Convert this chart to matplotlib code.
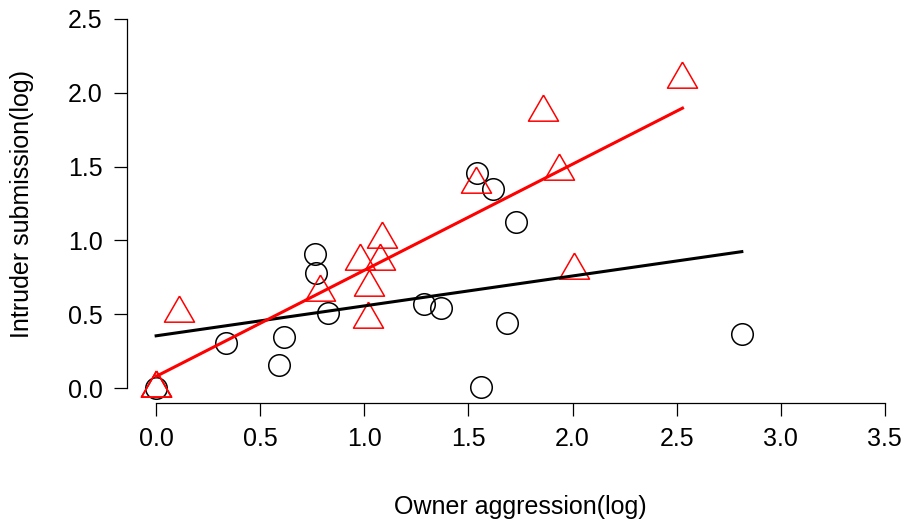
import numpy as np
import matplotlib.pyplot as plt

plt.rcParams['font.family'] = ['Liberation Sans', 'DejaVu Sans']

# owner aggression vs intruder submission (log), two groups
circ_x = [0.0, 0.336, 0.59, 0.615, 0.763, 0.768, 0.826, 1.287, 1.368,
          1.541, 1.618, 1.728, 1.685, 1.56, 2.813]
circ_y = [0.0, 0.305, 0.16, 0.345, 0.908, 0.78, 0.508, 0.569, 0.542,
          1.457, 1.348, 1.125, 0.44, 0.01, 0.366]

# three triangle observations sit on top of each other at (0, 0)
tri_x = [0.0, 0.0, 0.0, 0.11, 0.787, 0.979, 1.083, 1.075, 1.024, 1.019,
         1.536, 1.936, 2.007, 1.86, 2.528]
tri_y = [0.0, 0.0, 0.0, 0.508, 0.654, 0.858, 1.009, 0.858, 0.682, 0.471,
         1.385, 1.468, 0.797, 1.868, 2.094]

xticks = [0.0, 0.5, 1.0, 1.5, 2.0, 2.5, 3.0, 3.5]
yticks = [0.0, 0.5, 1.0, 1.5, 2.0, 2.5]

fig = plt.figure(figsize=(9.08, 5.28), dpi=100)
ax = fig.add_axes([127 / 908, 125 / 528, 787 / 908, 399 / 528])

# triangle with its centroid on the data point
tri_marker = [(0, 1), (-0.866, -0.5), (0.866, -0.5), (0, 1)]

ax.plot(circ_x, circ_y, linestyle='none', marker='o', ms=15.5,
        mfc='none', mec='black', mew=1.1)
ax.plot(tri_x, tri_y, linestyle='none', marker=tri_marker, ms=25,
        mfc='none', mec='red', mew=1.1)

# least-squares lines over each group's x range
for xs, ys, col in [(circ_x, circ_y, 'black'), (tri_x, tri_y, 'red')]:
    xs = np.array(xs)
    k, b = np.polyfit(xs, ys, 1)
    xx = np.array([xs.min(), xs.max()])
    ax.plot(xx, k * xx + b, color=col, lw=2.2)

ax.set_xlim(-0.14, 3.64)
ax.set_ylim(-0.1, 2.6)
ax.set_xticks(xticks)
ax.set_yticks(yticks)
ax.set_xticklabels([f'{v:.1f}' for v in xticks])
ax.set_yticklabels([f'{v:.1f}' for v in yticks])

for s in ['top', 'right']:
    ax.spines[s].set_visible(False)
ax.spines['bottom'].set_bounds(0, 3.5)
ax.spines['left'].set_bounds(0, 2.5)
for s in ['bottom', 'left']:
    ax.spines[s].set_linewidth(0.9)

ax.tick_params(direction='out', length=9.5, width=0.9, labelsize=18, pad=8)

ax.set_xlabel('Owner aggression(log)', fontsize=18, va='center')
ax.set_ylabel('Intruder submission(log)', fontsize=18, va='center')
ax.xaxis.set_label_coords(0.5, -0.261)
ax.yaxis.set_label_coords(-0.1334, 0.5)

fig.savefig('out.png', dpi=100)
